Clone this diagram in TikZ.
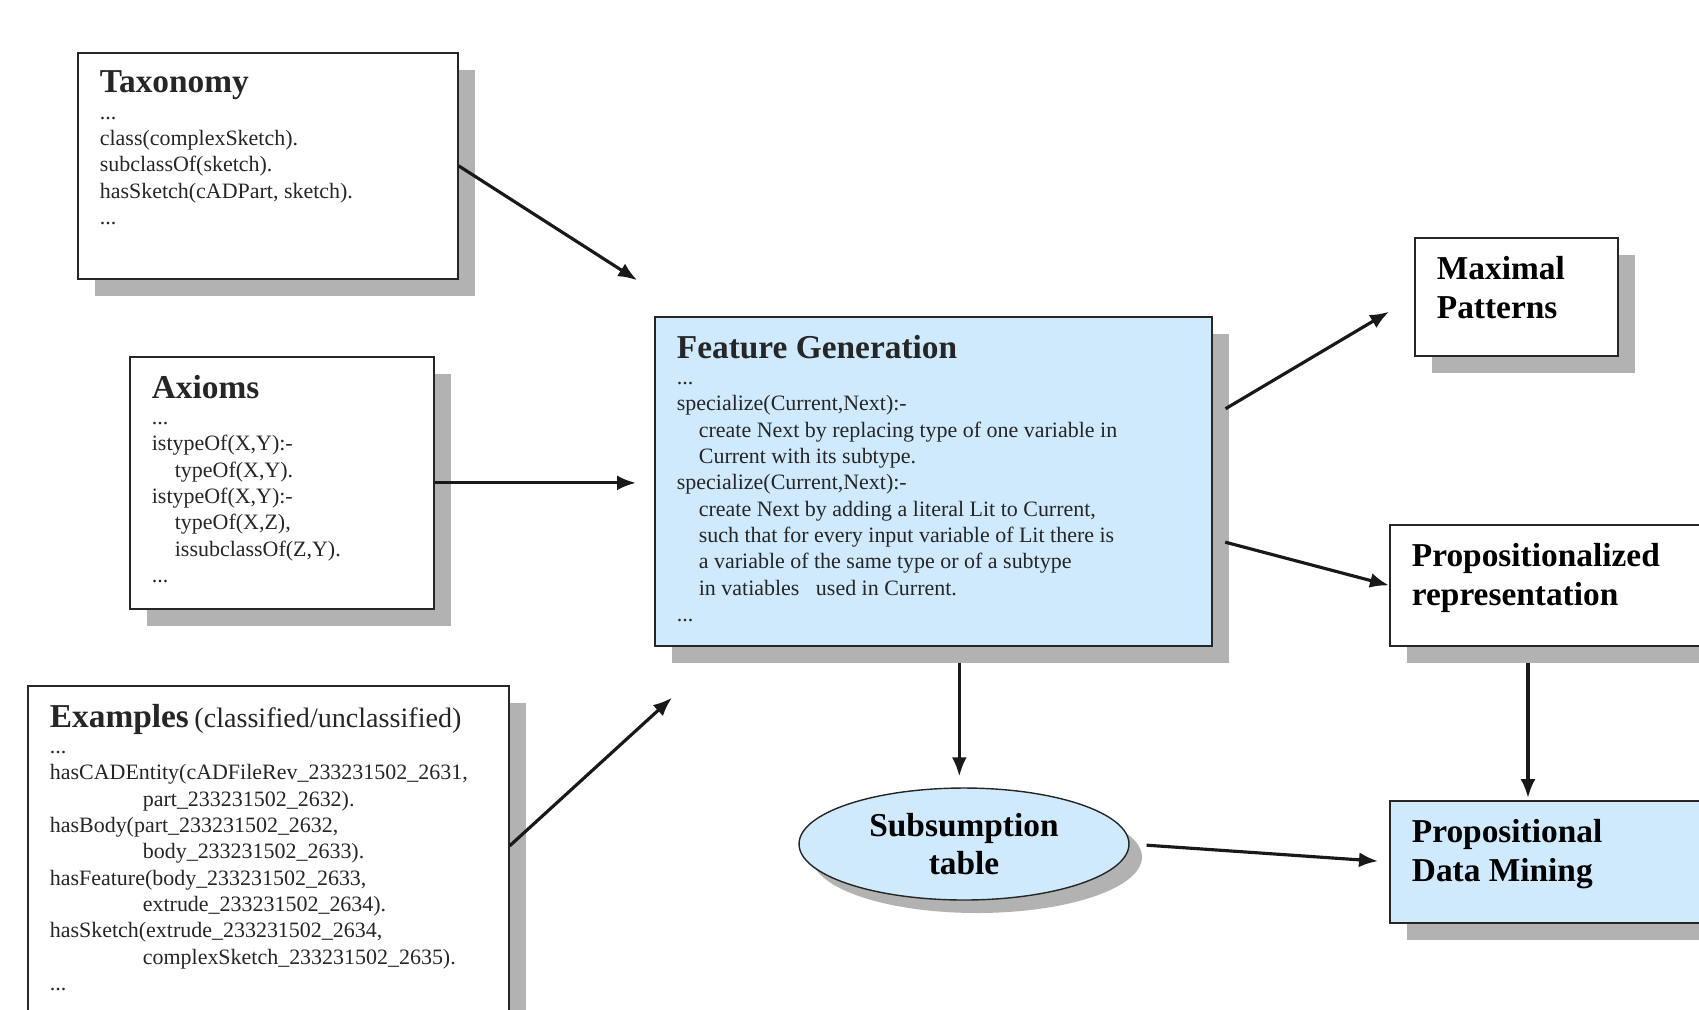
\documentclass[tikz,border=0pt]{standalone}
\usepackage{fontspec}
\setmainfont{Liberation Serif}
\usetikzlibrary{shapes.geometric, shadows, arrows.meta}
\definecolor{lightsky}{RGB}{206,234,252}
\newcommand{\boxhead}[1]{{\fontsize{19}{15}\selectfont\bfseries #1}}

\begin{document}
\begin{tikzpicture}[x=0.02cm, y=-0.02cm,
shadowed/.style={drop shadow={shadow xshift=0.34cm, shadow yshift=-0.34cm, fill=black!30, opacity=1}},
card/.style={draw=black!85, line width=1pt, fill=white, anchor=north west,
  inner xsep=0.44cm, inner ysep=0.36cm, text=black!85,
  font=\fontsize{12.5}{15}\selectfont, shadowed},
bluecard/.style={card, fill=lightsky},
bigcard/.style={card, font=\fontsize{19}{22.5}\selectfont\bfseries, text=black},
flow/.style={line width=1.8pt, black!90, -{Latex[length=0.38cm, width=0.3cm]}}]
\useasboundingbox (0,0) rectangle (1699,1009);
%================================================================
%	Boxes
\node[card] (tax) at (77,52) {\parbox[c][3.8cm][t]{6.72cm}{\raggedright
{\boxhead{Taxonomy}}\\
...\\
class(complexSketch).\\
subclassOf(sketch).\\
hasSketch(cADPart, sketch).\\
...}};

\node[card] (ax) at (129,356) {\parbox[c][4.32cm][t]{5.2cm}{\raggedright
{\boxhead{Axioms}}\\
...\\
istypeOf(X,Y):-\\
\hspace*{0.46cm}typeOf(X,Y).\\
istypeOf(X,Y):-\\
\hspace*{0.46cm}typeOf(X,Z),\\
\hspace*{0.46cm}issubclassOf(Z,Y).\\
...}};

\node[card] (ex) at (27,685) {\parbox[c][6.48cm][t]{8.74cm}{\raggedright
{\boxhead{Examples}} {\fontsize{16}{15}\selectfont (classified/unclassified)}\\
...\\
hasCADEntity(cADFileRev\_233231502\_2631,\\
\hspace*{1.86cm}part\_233231502\_2632).\\
hasBody(part\_233231502\_2632,\\
\hspace*{1.86cm}body\_233231502\_2633).\\
hasFeature(body\_233231502\_2633,\\
\hspace*{1.86cm}extrude\_233231502\_2634).\\
hasSketch(extrude\_233231502\_2634,\\
\hspace*{1.86cm}complexSketch\_233231502\_2635).\\
...}};

\node[bluecard] (fg) at (654,316) {\parbox[c][5.86cm][t]{10.26cm}{\raggedright
{\boxhead{Feature Generation}}\\
...\\
specialize(Current,Next):-\\
\hspace*{0.44cm}create Next by replacing type of one variable in\\
\hspace*{0.44cm}Current with its subtype.\\
specialize(Current,Next):-\\
\hspace*{0.44cm}create Next by adding a literal Lit to Current,\\
\hspace*{0.44cm}such that for every input variable of Lit there is\\
\hspace*{0.44cm}a variable of the same type or of a subtype\\
\hspace*{0.44cm}in vatiables\ \ \ used in Current.\\
...}};

%----------------------------------------------------------------
\node[bigcard] (max) at (1414,237) {\parbox[c][1.64cm][t]{3.18cm}{\raggedright
Maximal\\Patterns}};

\node[bigcard] (prop) at (1389,524) {\parbox[c][1.70cm][t]{5.92cm}{\raggedright
Propositionalized\\representation}};

\node[bigcard, fill=lightsky] (pdm) at (1389,800) {\parbox[c][1.72cm][t]{5.92cm}{\raggedright
Propositional\\Data Mining}};

\node[ellipse, draw=black!85, line width=0.8pt, fill=lightsky, align=center,
  minimum width=6.6cm, minimum height=2.24cm,
  font=\fontsize{19}{22}\selectfont\bfseries,
  drop shadow={shadow xshift=0.26cm, shadow yshift=-0.26cm, fill=black!30, opacity=1}]
  (sub) at (964,844) {Subsumption\\table};

%================================================================
%	Lines
\draw[flow, shorten >=0.4cm] (tax.east) -- ([yshift=0.5cm]fg.north west);
\draw[flow, shorten >=0.36cm] (ax.east) -- (fg.west |- ax.east);
\draw[flow] ([yshift=0.4cm]ex.east) -- ([xshift=0.36cm, yshift=-1.02cm]fg.south west);

\draw[flow, shorten <=0.3cm, shorten >=0.58cm] ([yshift=1.3cm]fg.east) -- (max.west);
\draw[flow, shorten <=0.26cm] ([yshift=-1.15cm]fg.east) -- (prop.west);
\draw[flow, shorten <=0.32cm, shorten >=0.22cm] ([xshift=0.52cm]fg.south) -- ([xshift=0.52cm]fg.south |- sub.north);

\draw[flow, shorten <=0.34cm, shorten >=0.22cm] (sub.east) -- (pdm.west);
\draw[flow, shorten <=0.32cm, shorten >=0.04cm] ([xshift=2.78cm]prop.south west) -- ([xshift=2.78cm]pdm.north west);
%================================================================
\end{tikzpicture}
\end{document}
